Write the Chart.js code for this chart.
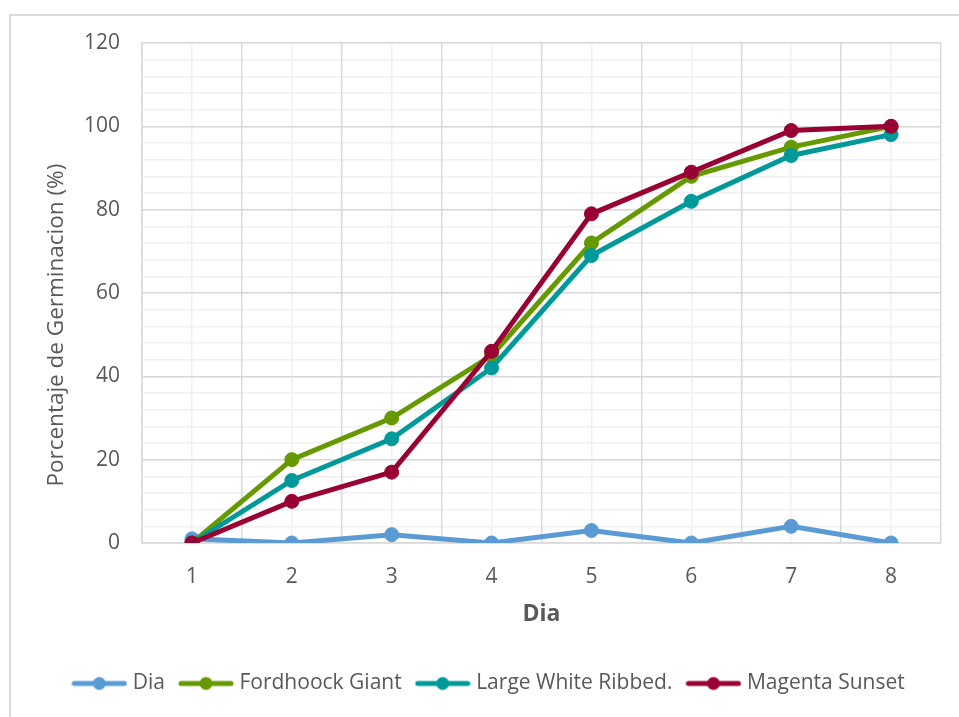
<!DOCTYPE html>
<html>
<head>
<meta charset="utf-8">
<script src="https://cdn.jsdelivr.net/npm/chart.js@4/dist/chart.umd.min.js"></script>
<style>
  html, body { margin: 0; padding: 0; background: #ffffff; }
  #wrap { position: relative; width: 959px; height: 717px; overflow: hidden; }
  #frame { position: absolute; left: 9px; top: 14px; width: 980px; height: 740px;
           border-top: 2px solid #d9d9d9; border-left: 2px solid #d9d9d9; box-sizing: border-box; }
  #c { position: absolute; left: 0; top: 0; }
</style>
</head>
<body>
<div id="wrap">
  <div id="frame"></div>
  <canvas id="c" width="959" height="717"></canvas>
</div>
<script>
// Germination percentage per day for three varieties (plus the day series)
const dias = ['1', '2', '3', '4', '5', '6', '7', '8'];
const serieDia = [1, 0, 2, 0, 3, 0, 4, 0];
const fordhookGiant = [0, 20, 30, 45, 72, 88, 95, 100];
const largeWhiteRibbed = [0, 15, 25, 42, 69, 82, 93, 98];
const magentaSunset = [0, 10, 17, 46, 79, 89, 99, 100];
const yTicks = [0, 20, 40, 60, 80, 100, 120];

const FONT = "'Open Sans', 'DejaVu Sans', sans-serif";
const TEXT = '#595959';
const MAJOR = '#d9d9d9';
const MINOR = '#f0f0f0';
// the y title sits a little below the middle of the plot; trailing
// no-break spaces push the drawn words downward along the axis
const Y_TITLE = 'Porcentaje de Germinacion (%)' + '\u00a0'.repeat(11);

// line-with-dot swatch used in the legend
function swatch(color) {
  const cv = document.createElement('canvas');
  cv.width = 56; cv.height = 16;
  const g = cv.getContext('2d');
  g.strokeStyle = color; g.lineWidth = 5; g.lineCap = 'round';
  g.beginPath(); g.moveTo(3, 8); g.lineTo(53, 8); g.stroke();
  g.fillStyle = color;
  g.beginPath(); g.arc(28, 8, 6.5, 0, Math.PI * 2); g.fill();
  return cv;
}

function series(label, data, color, order) {
  return {
    label, data, order,
    borderColor: color, backgroundColor: color,
    borderWidth: 5,
    pointRadius: 7, pointHoverRadius: 7,
    pointBackgroundColor: color, pointBorderColor: color, pointBorderWidth: 1,
    pointStyle: 'circle', tension: 0, fill: false,
    swatch: swatch(color)
  };
}

const datasets = [
  series('Dia', serieDia, '#5b9bd5', 4),
  series('Fordhoock Giant', fordhookGiant, '#669900', 3),
  series('Large White Ribbed.', largeWhiteRibbed, '#009999', 2),
  series('Magenta Sunset', magentaSunset, '#990033', 1)
];

new Chart(document.getElementById('c'), {
  type: 'line',
  data: { labels: dias, datasets },
  options: {
    responsive: false,
    animation: false,
    events: [],
    layout: { padding: { left: 40, right: 18, top: 43, bottom: 13 } },
    plugins: {
      tooltip: { enabled: false },
      legend: {
        position: 'bottom',
        labels: {
          usePointStyle: true,
          pointStyleWidth: 46,
          padding: 18,
          color: TEXT,
          font: { family: FONT, size: 21 },
          generateLabels(chart) {
            return chart.data.datasets.map((ds, i) => ({
              text: ds.label,
              datasetIndex: i,
              pointStyle: ds.swatch,
              fillStyle: ds.borderColor,
              strokeStyle: ds.borderColor,
              lineWidth: 0,
              fontColor: TEXT,
              hidden: false
            }));
          }
        }
      }
    },
    scales: {
      xMinor: {
        type: 'category', position: 'bottom', offset: true,
        grid: { offset: false, color: MINOR, lineWidth: 1.5, drawTicks: false, z: -1 },
        border: { display: false },
        ticks: { display: false },
        afterFit(s) { s.height = 0; }
      },
      yMinor: {
        type: 'linear', position: 'left', min: 0, max: 120,
        grid: { color: MINOR, lineWidth: 1.5, drawTicks: false, z: -1 },
        border: { display: false },
        ticks: { display: false, stepSize: 4 },
        afterFit(s) { s.width = 0; }
      },
      x: {
        type: 'category', position: 'bottom', offset: true,
        grid: { offset: true, color: MAJOR, lineWidth: 1.5, drawTicks: false },
        border: { color: MAJOR, width: 1.5 },
        ticks: { color: TEXT, font: { family: FONT, size: 21 }, padding: 21 },
        title: {
          display: true, text: 'Dia', color: TEXT,
          font: { family: FONT, size: 23, weight: 'bold' },
          padding: { top: 0, bottom: 27 }
        },
        afterFit(s) { s.height = 112; }
      },
      y: {
        type: 'linear', position: 'left', min: 0, max: 120,
        afterBuildTicks(s) { s.ticks = yTicks.map(v => ({ value: v })); },
        grid: { color: MAJOR, lineWidth: 1.5, drawTicks: false },
        border: { color: MAJOR, width: 1.5 },
        ticks: { color: TEXT, font: { family: FONT, size: 21 }, padding: 22 },
        title: {
          display: true, text: Y_TITLE, color: TEXT,
          font: { family: FONT, size: 22.5 },
          padding: { top: 3.5, bottom: 0 }
        },
        afterFit(s) { s.width = 102; }
      }
    }
  }
});
</script>
</body>
</html>
